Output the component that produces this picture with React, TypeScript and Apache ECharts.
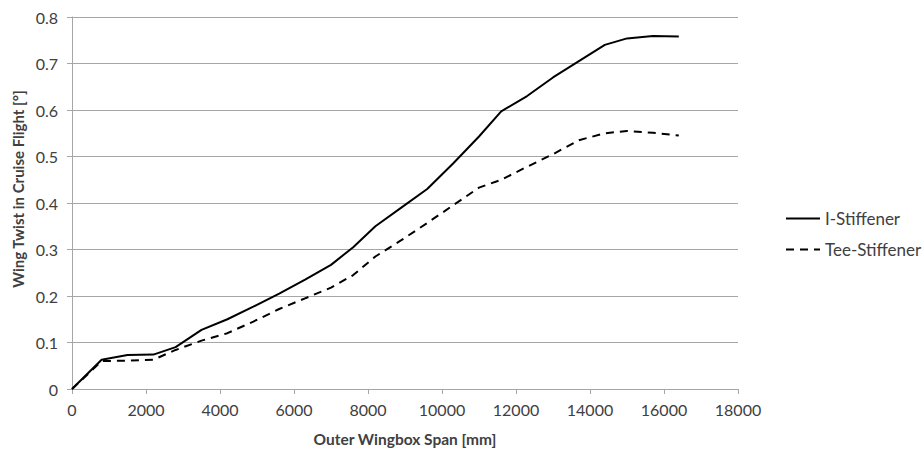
import React, { useEffect, useRef } from "react";
import * as echarts from "echarts";

const spanMm = [0, 800, 1500, 2200, 2800, 3500, 4200, 4900, 5600, 6300, 7000, 7600, 8200, 8900, 9600, 10300, 11000, 11600, 12300, 13000, 13700, 14400, 15000, 15700, 16400];
const iStiffener = [0, 0.063, 0.073, 0.074, 0.09, 0.127, 0.15, 0.177, 0.205, 0.235, 0.267, 0.305, 0.35, 0.39, 0.43, 0.485, 0.543, 0.597, 0.63, 0.67, 0.705, 0.74, 0.754, 0.759, 0.758];
const teeStiffener = [0, 0.06, 0.061, 0.063, 0.084, 0.104, 0.12, 0.145, 0.172, 0.195, 0.218, 0.245, 0.285, 0.32, 0.357, 0.395, 0.433, 0.45, 0.478, 0.505, 0.535, 0.55, 0.555, 0.551, 0.545];

const yTitle = "Wing Twist in Cruise Flight [°]";
const xTitle = "Outer Wingbox Span [mm]";

const FONT = "Lato, 'Open Sans', sans-serif";
const TXT = "#404040";

export default function App() {
  const ref = useRef<HTMLDivElement>(null);
  useEffect(() => {
    if (!ref.current) return;
    const chart = echarts.init(ref.current, undefined, { renderer: "svg" });
    chart.setOption({
      animation: false,
      textStyle: { fontFamily: FONT },
      grid: { left: 72, right: 185, top: 17, bottom: 61 },
      graphic: [
        {
          type: "text",
          x: 18,
          y: 189,
          rotation: Math.PI / 2,
          style: {
            text: yTitle,
            fill: TXT,
            font: `bold 15px ${FONT}`,
            textAlign: "center",
            textVerticalAlign: "middle",
          },
        },
      ],
      legend: {
        orient: "vertical",
        left: 780,
        top: 205,
        itemGap: 14,
        itemWidth: 34,
        itemHeight: 14,
        itemStyle: { opacity: 0 },
        textStyle: { color: TXT, fontSize: 17, fontFamily: FONT },
        data: ["I-Stiffener", "Tee-Stiffener"],
      },
      xAxis: {
        type: "value",
        min: 0,
        max: 18000,
        interval: 2000,
        name: xTitle,
        nameLocation: "middle",
        nameGap: 42,
        nameTextStyle: { color: TXT, fontSize: 15.5, fontWeight: "bold", fontFamily: FONT },
        axisLine: { show: true, lineStyle: { color: "#a6a6a6", width: 1 } },
        axisTick: { show: true, length: 5, lineStyle: { color: "#a6a6a6" } },
        axisLabel: { color: TXT, fontSize: 16, margin: 12, fontFamily: FONT, formatter: (v: number) => String(v) },
        splitLine: { show: false },
      },
      yAxis: {
        type: "value",
        min: 0,
        max: 0.8,
        interval: 0.1,
        axisLine: { show: true, lineStyle: { color: "#a6a6a6", width: 1 } },
        axisTick: { show: true, length: 5, lineStyle: { color: "#a6a6a6" } },
        axisLabel: {
          color: TXT,
          fontSize: 16,
          margin: 14,
          fontFamily: FONT,
          formatter: (v: number) => (v === 0 ? "0" : String(Math.round(v * 10) / 10)),
        },
        splitLine: { show: true, lineStyle: { color: "#a6a6a6", width: 1 } },
      },
      series: [
        {
          name: "I-Stiffener",
          type: "line",
          data: spanMm.map((x, i) => [x, iStiffener[i]]),
          showSymbol: false,
          symbol: "none",
          lineStyle: { color: "#000000", width: 2 },
          itemStyle: { color: "#000000" },
        },
        {
          name: "Tee-Stiffener",
          type: "line",
          data: spanMm.map((x, i) => [x, teeStiffener[i]]),
          showSymbol: false,
          symbol: "none",
          lineStyle: { color: "#000000", width: 2, type: [8, 6] },
          itemStyle: { color: "#000000" },
        },
      ],
    });
    return () => chart.dispose();
  }, []);
  return <div ref={ref} style={{ width: 923, height: 452, position: "absolute", left: 0, top: 0 }} />;
}
